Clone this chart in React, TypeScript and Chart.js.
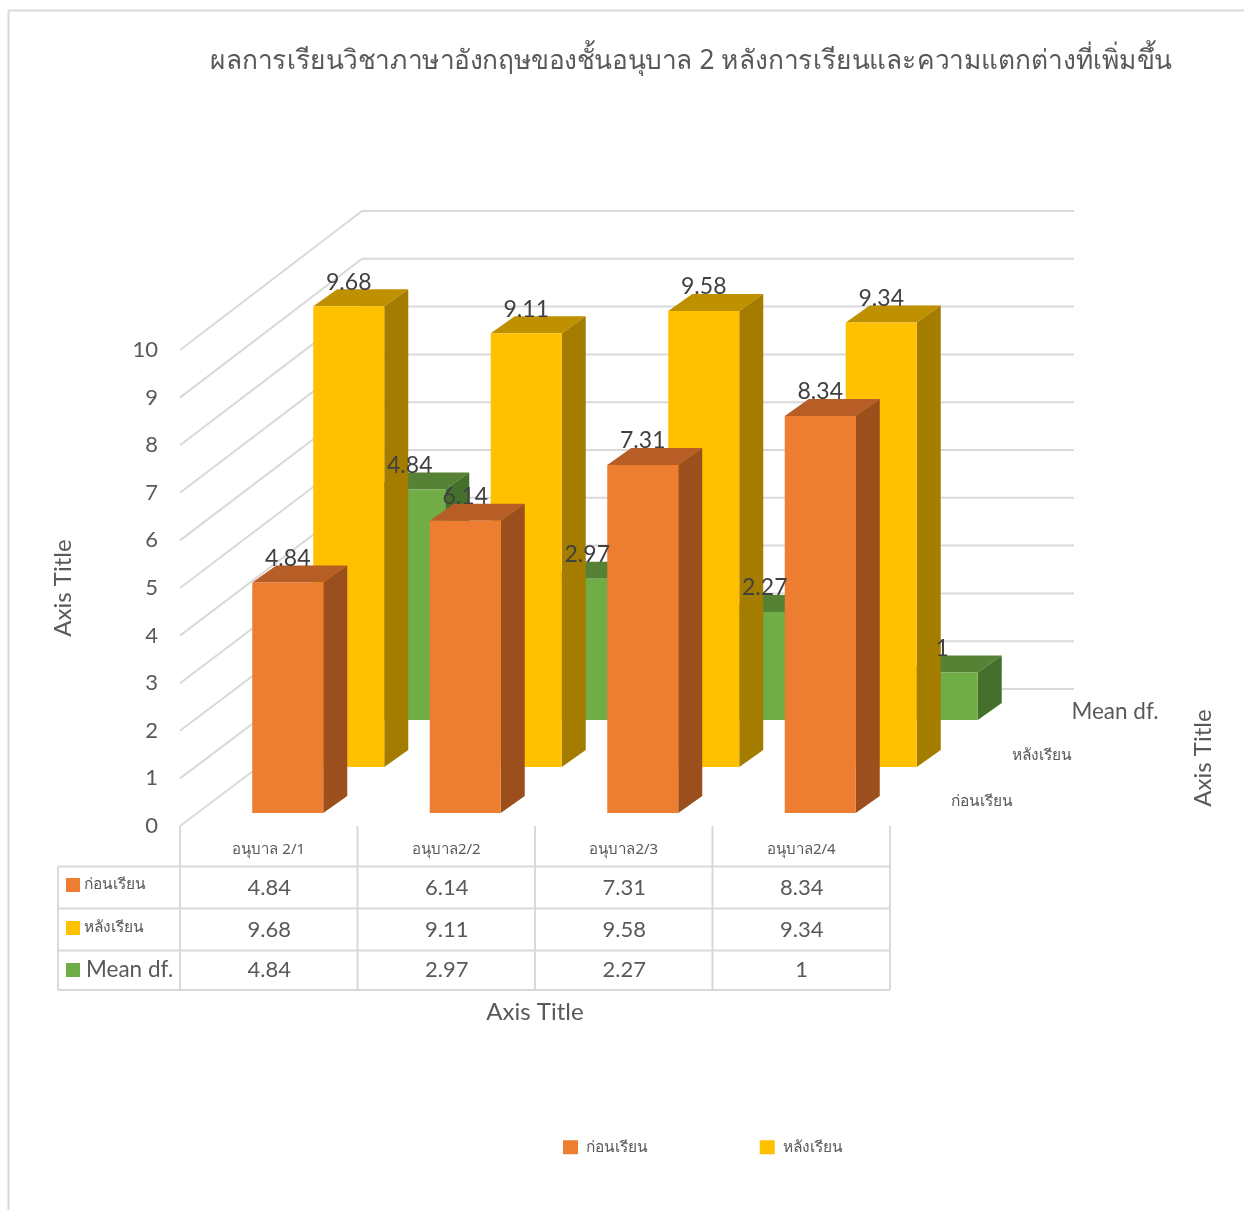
import React, { useEffect, useRef } from "react";
import { Chart, registerables } from "chart.js";

Chart.register(...registerables);

const chartTitle = "ผลการเรียนวิชาภาษาอังกฤษของชั้นอนุบาล 2 หลังการเรียนและความแตกต่างที่เพิ่มขึ้น";
const categories = ["อนุบาล 2/1", "อนุบาล2/2", "อนุบาล2/3", "อนุบาล2/4"];
const seriesNames = ["ก่อนเรียน", "หลังเรียน", "Mean df."];
const beforeValues = [4.84, 6.14, 7.31, 8.34];
const afterValues = [9.68, 9.11, 9.58, 9.34];
const meanDiffValues = [4.84, 2.97, 2.27, 1];
const axisTitle = "Axis Title";

const FRONT = ["#ED7D31", "#FFC000", "#70AD47"];
const TOP = ["#B65E26", "#BF9000", "#568235"];
const SIDE = ["#9A4F1C", "#A37C00", "#44702B"];
const DEPTH_OFFSET = [
  { dx: 19, dy: -13 },
  { dx: 80, dy: -59 },
  { dx: 141, dy: -106 },
];
const BAR_DEPTH = { dx: 24, dy: -17 };
const WALL = { dx: 182, dy: -137, dyPerUnit: -0.2, right: 1074 };
const GREY = "#d9d9d9";
const TEXT = "#595959";
const LATIN = "Lato, 'Noto Sans', sans-serif";
const THAI = "'Noto Sans', Lato, sans-serif";

const TABLE_ROWS_Y = [866.5, 908.5, 950.5, 990];
const TABLE_LEFT = 58;
const TABLE_VALUE_Y = [888, 930, 970];
const TABLE_SWATCH_Y = [878, 921, 963];
const SERIES_VALUES = [beforeValues, afterValues, meanDiffValues];

function line(ctx: CanvasRenderingContext2D, pts: number[][], color: string, w: number) {
  ctx.save();
  ctx.strokeStyle = color;
  ctx.lineWidth = w;
  ctx.lineJoin = "round";
  ctx.beginPath();
  pts.forEach((p, i) => (i ? ctx.lineTo(p[0], p[1]) : ctx.moveTo(p[0], p[1])));
  ctx.stroke();
  ctx.restore();
}

function poly(ctx: CanvasRenderingContext2D, pts: number[][], color: string) {
  ctx.fillStyle = color;
  ctx.beginPath();
  pts.forEach((p, i) => (i ? ctx.lineTo(p[0], p[1]) : ctx.moveTo(p[0], p[1])));
  ctx.closePath();
  ctx.fill();
}

function label(
  ctx: CanvasRenderingContext2D,
  text: string,
  x: number,
  y: number,
  font: string,
  color = TEXT,
  align: CanvasTextAlign = "center"
) {
  ctx.font = font;
  ctx.fillStyle = color;
  ctx.textAlign = align;
  ctx.textBaseline = "middle";
  ctx.fillText(text, x, y);
}

const pseudo3d = {
  id: "pseudo3d",
  afterLayout(chart: any) {
    const tb = chart.titleBlock;
    tb.left = 210;
    tb.right = 1172;
    const lg = chart.legend;
    const pad = lg.options.labels.padding;
    lg.left = 563 - pad;
    lg.right = 1240;
    lg.top = 1147.5 - pad - 8;
  },
  beforeDraw(chart: any) {
    const ctx = chart.ctx;
    line(ctx, [[8.5, 1210], [8.5, 10.5], [1244, 10.5]], GREY, 2);
  },
  beforeDatasetsDraw(chart: any) {
    const ctx = chart.ctx;
    const y = chart.scales.y;
    const left = chart.chartArea.left;
    y.ticks.forEach((t: any, i: number) => {
      const py = y.getPixelForTick(i);
      const dy = WALL.dy + WALL.dyPerUnit * t.value;
      line(
        ctx,
        [
          [left, py],
          [left + WALL.dx, py + dy],
          [WALL.right, py + dy],
        ],
        GREY,
        2
      );
    });
  },
  beforeDatasetDraw(chart: any, args: any) {
    const ctx = chart.ctx;
    const i = args.index;
    const off = DEPTH_OFFSET[i];
    ctx.save();
    ctx.translate(off.dx, off.dy);
    args.meta.data.forEach((el: any) => {
      const { x, y, base, width } = el.getProps(["x", "y", "base", "width"], true);
      const x0 = x - width / 2;
      const x1 = x + width / 2;
      poly(
        ctx,
        [
          [x0, y],
          [x0 + BAR_DEPTH.dx, y + BAR_DEPTH.dy],
          [x1 + BAR_DEPTH.dx, y + BAR_DEPTH.dy],
          [x1, y],
        ],
        TOP[i]
      );
      poly(
        ctx,
        [
          [x1, y],
          [x1 + BAR_DEPTH.dx, y + BAR_DEPTH.dy],
          [x1 + BAR_DEPTH.dx, base + BAR_DEPTH.dy],
          [x1, base],
        ],
        SIDE[i]
      );
    });
  },
  afterDatasetDraw(chart: any) {
    chart.ctx.restore();
  },
  afterDatasetsDraw(chart: any) {
    const ctx = chart.ctx;
    const dataLabelFont = `23px ${LATIN}`;
    chart.data.datasets.forEach((ds: any, i: number) => {
      const meta = chart.getDatasetMeta(i);
      meta.data.forEach((el: any, j: number) => {
        const { x, y } = el.getProps(["x", "y"], true);
        label(ctx, String(ds.data[j]), x + DEPTH_OFFSET[i].dx, y + DEPTH_OFFSET[i].dy - 24, dataLabelFont, "#404040");
      });
    });

    // depth axis labels
    label(ctx, seriesNames[2], 1115, 712, `22.5px ${LATIN}`);
    label(ctx, seriesNames[1], 1042, 756, `15.5px ${THAI}`);
    label(ctx, seriesNames[0], 982, 802, `15.5px ${THAI}`);

    // right axis title
    ctx.save();
    ctx.translate(1203, 758);
    ctx.rotate(-Math.PI / 2);
    label(ctx, axisTitle, 0, 0, `24px ${LATIN}`);
    ctx.restore();

    // data table
    const x = chart.scales.x;
    const area = chart.chartArea;
    const step = x.getPixelForTick(1) - x.getPixelForTick(0);
    const bottom = TABLE_ROWS_Y[TABLE_ROWS_Y.length - 1];
    TABLE_ROWS_Y.forEach((ry) => line(ctx, [[TABLE_LEFT, ry], [area.right, ry]], GREY, 2));
    line(ctx, [[TABLE_LEFT, TABLE_ROWS_Y[0]], [TABLE_LEFT, bottom]], GREY, 2);
    categories.forEach((_, j) => {
      const cx = x.getPixelForTick(j) - step / 2;
      line(ctx, [[cx, area.bottom], [cx, bottom]], GREY, 2);
    });
    line(ctx, [[area.right, area.bottom], [area.right, bottom]], GREY, 2);
    seriesNames.forEach((name, r) => {
      const my = TABLE_VALUE_Y[r];
      const isLatin = r === 2;
      ctx.fillStyle = FRONT[r];
      ctx.fillRect(66, TABLE_SWATCH_Y[r], 14, 14);
      if (isLatin) label(ctx, name, 86, my, `22.5px ${LATIN}`, TEXT, "left");
      else label(ctx, name, 84, TABLE_SWATCH_Y[r] + 7, `15.5px ${THAI}`, TEXT, "left");
      SERIES_VALUES[r].forEach((v, j) => {
        label(ctx, String(v), x.getPixelForTick(j) + 0.5, my, `22px ${LATIN}`);
      });
    });
  },
};

export default function App() {
  const ref = useRef<HTMLCanvasElement>(null);
  useEffect(() => {
    const chart = new Chart(ref.current as HTMLCanvasElement, {
      type: "bar",
      data: {
        labels: categories,
        datasets: SERIES_VALUES.map((values, i) => ({
          label: seriesNames[i],
          data: values,
          backgroundColor: FRONT[i],
          clip: false as any,
        })),
      },
      plugins: [pseudo3d],
      options: {
        animation: false,
        responsive: false,
        layout: { padding: { left: 0, right: 354, top: 0, bottom: 46 } },
        datasets: { bar: { grouped: false, categoryPercentage: 1, barPercentage: 0.4 } },
        plugins: {
          tooltip: { enabled: false },
          title: {
            display: true,
            text: chartTitle,
            color: TEXT,
            font: { family: THAI, size: 27, weight: "normal", lineHeight: 1.2 },
            padding: { top: 45, bottom: 272.6 },
          },
          legend: {
            display: true,
            position: "bottom",
            align: "start",
            labels: {
              boxWidth: 15,
              boxHeight: 14,
              padding: 112,
              color: TEXT,
              font: { family: THAI, size: 15.5 },
              filter: (item: any) => item.datasetIndex !== 2,
            },
          },
        },
        scales: {
          x: {
            grid: { display: false },
            border: { display: false },
            ticks: { color: TEXT, font: { family: THAI, size: 15 }, padding: 6.5, maxRotation: 0, autoSkip: false },
            title: { display: true, text: axisTitle, color: TEXT, font: { family: LATIN, size: 24 }, padding: 0 },
            afterFit: (axis: any) => {
              axis.height = 200.5;
            },
          },
          y: {
            min: 0,
            max: 10,
            grid: { display: false },
            border: { display: false },
            ticks: { stepSize: 1, color: TEXT, font: { family: LATIN, size: 22 }, padding: 14 },
            title: {
              display: true,
              text: axisTitle,
              color: TEXT,
              font: { family: LATIN, size: 24 },
              padding: { top: 49, bottom: 0 },
            },
            afterFit: (axis: any) => {
              axis.width = 180;
            },
          },
        },
      },
    } as any);
    return () => chart.destroy();
  }, []);
  return (
    <canvas
      ref={ref}
      width={1244}
      height={1210}
      style={{ position: "fixed", left: 0, top: 0, display: "block" }}
    />
  );
}
